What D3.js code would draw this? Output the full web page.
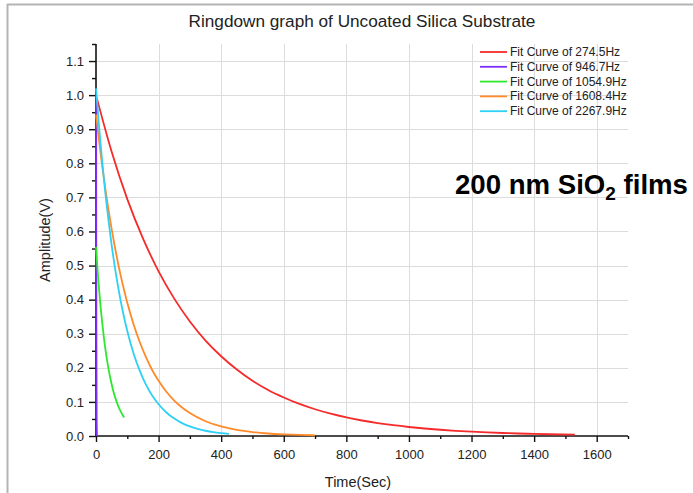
<!DOCTYPE html>
<html>
<head>
<meta charset="utf-8">
<script src="https://cdn.jsdelivr.net/npm/d3@7/dist/d3.min.js"></script>
<style>
  html, body { margin: 0; padding: 0; background: #fff; }
  svg { display: block; font-family: "Liberation Sans", Arial, sans-serif; }
</style>
</head>
<body>
<svg id="chart" width="693" height="493"></svg>
<script>
// ---- data ----
const seriesNames = ["Fit Curve of 274.5Hz", "Fit Curve of 946.7Hz", "Fit Curve of 1054.9Hz", "Fit Curve of 1608.4Hz", "Fit Curve of 2267.9Hz"];
const seriesColors = ["#f52a2a", "#7b2ff7", "#2ee82e", "#ff8a2a", "#2fd0f5"];

const t274 = [3, 50, 100, 150, 200, 250, 300, 350, 400, 450, 500, 550, 600, 650, 700, 750, 800, 850, 900, 950, 1000, 1050, 1100, 1150, 1200, 1250, 1300, 1350, 1400, 1450, 1530];
const a274 = [0.99, 0.834, 0.695, 0.580, 0.483, 0.403, 0.336, 0.280, 0.234, 0.195, 0.162, 0.135, 0.113, 0.094, 0.0785, 0.0654, 0.0545, 0.0455, 0.0379, 0.0316, 0.0264, 0.0220, 0.0183, 0.0153, 0.0127, 0.0106, 0.0088, 0.0074, 0.0061, 0.0051, 0.0038];

const t946 = [0.5, 0.8, 1.2, 2, 3];
const a946 = [1.0, 0.6, 0.3, 0.05, 0.0];

const t1054 = [0, 5, 10, 15, 20, 25, 30, 35, 40, 45, 50, 55, 60, 65, 70, 75, 80, 85, 90];
const a1054 = [0.555, 0.488, 0.428, 0.376, 0.331, 0.290, 0.255, 0.224, 0.197, 0.173, 0.152, 0.133, 0.117, 0.103, 0.0905, 0.0795, 0.0699, 0.0614, 0.054];

const t1608 = [0, 10, 20, 30, 40, 50, 60, 70, 80, 90, 100, 120, 140, 160, 180, 200, 225, 250, 275, 300, 350, 400, 450, 500, 550, 600, 650, 700];
const a1608 = [0.943, 0.864, 0.791, 0.724, 0.663, 0.607, 0.556, 0.509, 0.466, 0.427, 0.391, 0.328, 0.275, 0.231, 0.193, 0.162, 0.130, 0.104, 0.0837, 0.0672, 0.0433, 0.0279, 0.0179, 0.0116, 0.0074, 0.0048, 0.0031, 0.0020];

const t2267 = [0, 10, 20, 30, 40, 50, 60, 70, 80, 90, 100, 120, 140, 160, 180, 200, 225, 250, 275, 300, 325, 350, 375, 400, 425];
const a2267 = [1.02, 0.905, 0.803, 0.712, 0.632, 0.560, 0.497, 0.441, 0.391, 0.347, 0.308, 0.242, 0.191, 0.150, 0.118, 0.093, 0.069, 0.0511, 0.0379, 0.0281, 0.0208, 0.0154, 0.0114, 0.0085, 0.0063];

const xMajorTicks = [0, 200, 400, 600, 800, 1000, 1200, 1400, 1600];
const xMinorTicks = [100, 300, 500, 700, 900, 1100, 1300, 1500, 1700];
const yMajorTicks = [0.0, 0.1, 0.2, 0.3, 0.4, 0.5, 0.6, 0.7, 0.8, 0.9, 1.0, 1.1];
const yMinorTicks = [0.05, 0.15, 0.25, 0.35, 0.45, 0.55, 0.65, 0.75, 0.85, 0.95, 1.05, 1.15];

const titleText = "Ringdown graph of Uncoated Silica Substrate";
const xLabel = "Time(Sec)";
const yLabel = "Amplitude(V)";

// ---- drawing ----
const svg = d3.select("#chart");
const L = 96, R = 628, T = 44, B = 436;
const x = d3.scaleLinear().domain([0, 1700]).range([L, R]);
const y = d3.scaleLinear().domain([0, 1.15]).range([B, T]);

// frame
svg.append("line").attr("x1", 7).attr("x2", 693).attr("y1", 4.5).attr("y2", 4.5).attr("stroke", "#b4b4b4").attr("stroke-width", 2);
svg.append("line").attr("x1", 7.5).attr("x2", 7.5).attr("y1", 4).attr("y2", 493).attr("stroke", "#b4b4b4").attr("stroke-width", 2);

// grid
svg.append("g").selectAll("line").data(yMajorTicks.filter(d => d > 0)).join("line")
  .attr("x1", L).attr("x2", R).attr("y1", d => Math.round(y(d)) + 0.5).attr("y2", d => Math.round(y(d)) + 0.5)
  .attr("stroke", "#dcdcdc").attr("stroke-width", 1);
svg.append("g").selectAll("line").data(xMajorTicks.filter(d => d > 0)).join("line")
  .attr("y1", T).attr("y2", B).attr("x1", d => Math.round(x(d)) + 0.5).attr("x2", d => Math.round(x(d)) + 0.5)
  .attr("stroke", "#dcdcdc").attr("stroke-width", 1);

// axes
function styleAxis(g) {
  g.select(".domain").remove();
  g.selectAll(".tick line").attr("stroke", "#111").attr("stroke-width", 1.4);
  g.selectAll(".tick text").attr("fill", "#222").attr("font-size", 13).attr("font-family", "Liberation Sans, Arial, sans-serif");
}
const yAxisMinor = svg.append("g").attr("transform", `translate(${L},0)`)
  .call(d3.axisLeft(y).tickValues(yMinorTicks).tickSize(4).tickFormat(""));
styleAxis(yAxisMinor);
const yAxis = svg.append("g").attr("transform", `translate(${L},0)`)
  .call(d3.axisLeft(y).tickValues(yMajorTicks).tickSize(7).tickPadding(5).tickFormat(d3.format(".1f")));
styleAxis(yAxis);
const xAxisMinor = svg.append("g").attr("transform", `translate(0,${B})`)
  .call(d3.axisBottom(x).tickValues(xMinorTicks).tickSize(3).tickFormat(""));
styleAxis(xAxisMinor);
const xAxis = svg.append("g").attr("transform", `translate(0,${B})`)
  .call(d3.axisBottom(x).tickValues(xMajorTicks).tickSize(6).tickPadding(8).tickFormat(d3.format("d")));
styleAxis(xAxis);

svg.append("line").attr("x1", L).attr("x2", L).attr("y1", T).attr("y2", B).attr("stroke", "#111").attr("stroke-width", 1.6);
svg.append("line").attr("x1", L).attr("x2", R).attr("y1", B).attr("y2", B).attr("stroke", "#111").attr("stroke-width", 1.6);

// curves
const allT = [t274, t946, t1054, t1608, t2267];
const allA = [a274, a946, a1054, a1608, a2267];
const line = d3.line().x(d => x(d[0])).y(d => y(d[1])).curve(d3.curveMonotoneX);
allT.forEach((ts, i) => {
  const pts = ts.map((t, j) => [t, allA[i][j]]);
  svg.append("path").datum(pts).attr("d", line)
    .attr("fill", "none").attr("stroke", seriesColors[i]).attr("stroke-width", 1.8);
});

// legend
const leg = svg.append("g");
seriesNames.forEach((n, i) => {
  const yy = 52 + i * 14.8;
  leg.append("line").attr("x1", 480).attr("x2", 507).attr("y1", yy).attr("y2", yy)
    .attr("stroke", seriesColors[i]).attr("stroke-width", 1.8);
  leg.append("text").attr("x", 510).attr("y", yy + 4).attr("font-size", 12).attr("fill", "#222").text(n);
});

// title and labels
svg.append("text").attr("x", 362).attr("y", 27).attr("text-anchor", "middle").attr("font-size", 17.2).attr("fill", "#222").text(titleText);
svg.append("text").attr("x", 358).attr("y", 487).attr("text-anchor", "middle").attr("font-size", 14.5).attr("fill", "#222").text(xLabel);
svg.append("text").attr("transform", "translate(50,240) rotate(-90)").attr("text-anchor", "middle").attr("font-size", 14.5).attr("fill", "#222").text(yLabel);

// annotation
const ann = svg.append("text").attr("x", 455).attr("y", 194).attr("font-size", 27.6).attr("font-weight", "bold").attr("fill", "#000");
ann.append("tspan").text("200 nm SiO");
ann.append("tspan").attr("font-size", 19).attr("dy", 6).text("2");
ann.append("tspan").attr("dy", -6).text(" films");
</script>
</body>
</html>
